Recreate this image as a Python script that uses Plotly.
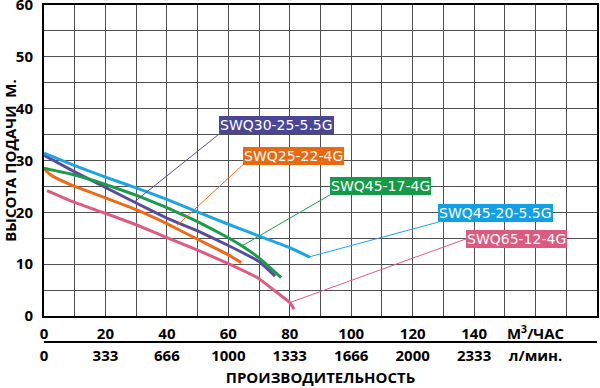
import plotly.graph_objects as go

# ---- data ----
series_names = ["SWQ30-25-5.5G", "SWQ25-22-4G", "SWQ45-17-4G", "SWQ45-20-5.5G", "SWQ65-12-4G"]

q_swq30 = [0, 10, 20, 30, 40, 50, 60, 70, 75.2]
h_swq30 = [31.0, 27.8, 24.8, 21.8, 18.9, 16.4, 13.6, 10.5, 7.7]

q_swq25 = [0, 2, 4, 10, 20, 30, 40, 50, 60, 64.2]
h_swq25 = [28.4, 27.3, 26.6, 25.0, 22.8, 20.5, 17.8, 14.8, 11.8, 10.3]

q_swq45_17 = [0, 10, 20, 30, 40, 50, 60, 65, 70, 74, 77.2]
h_swq45_17 = [28.5, 27.2, 25.4, 23.3, 20.9, 18.2, 15.1, 13.3, 11.2, 9.1, 7.4]

q_swq45_20 = [0, 10, 20, 30, 40, 50, 60, 70, 80, 86.3]
h_swq45_20 = [31.4, 29.0, 26.8, 24.7, 22.5, 20.1, 17.7, 15.4, 13.2, 11.4]

q_swq65 = [1, 10, 20, 30, 40, 50, 60, 70, 77, 80, 81.4]
h_swq65 = [24.2, 21.9, 19.8, 17.6, 15.1, 12.7, 10.1, 7.2, 4.0, 2.6, 1.3]

# label callouts: point on curve and label anchor (data units)
label_point_q = [29.6, 43.2, 64.4, 86.3, 80.1]
label_point_h = [22.1, 17.4, 13.5, 11.4, 2.6]
label_box_q = [57.0, 64.8, 93.2, 128.3, 137.5]
label_box_h = [35.1, 29.2, 23.4, 18.1, 14.9]

x_tick_values = [0, 20, 40, 60, 80, 100, 120, 140, 160]
x_tick_labels_m3h = ["0", "20", "40", "60", "80", "100", "120", "140", "M<sup>3</sup>/ЧАС"]
x_tick_labels_lpm = ["0", "333", "666", "1000", "1333", "1666", "2000", "2333", "л/мин."]
y_tick_values = [0, 10, 20, 30, 40, 50, 60]

line_colors = ["#5A4BA0", "#F06A14", "#1C9C48", "#1BA5E6", "#E05A80"]
box_colors = ["#4B4597", "#EA6810", "#159A4A", "#12A0E4", "#DC5A7D"]
box_yanchor = ["bottom", "bottom", "bottom", "bottom", "middle"]

curves = [(q_swq30, h_swq30), (q_swq25, h_swq25), (q_swq45_17, h_swq45_17),
          (q_swq45_20, h_swq45_20), (q_swq65, h_swq65)]

FONT = "Open Sans"

fig = go.Figure()
draw_order = [4, 1, 0, 2, 3]
for i in draw_order:
    q, h = curves[i]
    fig.add_trace(go.Scatter(x=q, y=h, mode="lines", name=series_names[i],
                             line=dict(color=line_colors[i], width=3, shape="spline", smoothing=0.3),
                             showlegend=False))

# dummy trace to attach the second (l/min) axis
fig.add_trace(go.Scatter(x=[], y=[], xaxis="x2", yaxis="y", showlegend=False, hoverinfo="skip"))

for i in range(5):
    fig.add_annotation(
        x=label_point_q[i], y=label_point_h[i], xref="x", yref="y",
        ax=label_box_q[i], ay=label_box_h[i], axref="x", ayref="y",
        text=series_names[i], showarrow=True,
        arrowhead=7 if i == 3 else 0, arrowsize=0.6, arrowwidth=1,
        arrowcolor=line_colors[i], standoff=0,
        xanchor="left", yanchor=box_yanchor[i],
        bgcolor=box_colors[i], borderpad=1, borderwidth=0,
        font=dict(family="DejaVu Sans", size=14, color="white"),
    )

minor_x = list(range(0, 181, 10))
minor_y = list(range(0, 61, 5))

fig.update_layout(
    width=600, height=388,
    margin=dict(l=44, r=3, t=5, b=5),
    paper_bgcolor="white", plot_bgcolor="white",
    font=dict(family=FONT, size=15, color="black"),
    xaxis=dict(
        range=[0, 180], tickvals=x_tick_values, ticktext=x_tick_labels_m3h,
        showgrid=False,
        minor=dict(tickvals=minor_x, showgrid=True, gridcolor="#505050", gridwidth=1, ticks=""),
        showline=True, linecolor="black", linewidth=2, mirror=True,
        ticks="", tickfont=dict(family=FONT, size=15, weight="bold"),
        ticklabelstandoff=3, zeroline=False, fixedrange=True, automargin=False,
        ticklabeloverflow="allow",
    ),
    xaxis2=dict(
        range=[0, 180], tickvals=x_tick_values, ticktext=x_tick_labels_lpm,
        overlaying="x", anchor="free", position=0.1085, side="bottom",
        showgrid=False, showline=True, linecolor="black", linewidth=2,
        ticks="", tickfont=dict(family=FONT, size=15, weight="bold"),
        ticklabelstandoff=0, zeroline=False, automargin=False,
        ticklabeloverflow="allow",
        title=dict(text="ПРОИЗВОДИТЕЛЬНОСТЬ", font=dict(family=FONT, size=15, weight="bold"), standoff=8),
    ),
    yaxis=dict(
        range=[0, 60], domain=[0.1773, 1], tickvals=y_tick_values,
        showgrid=False,
        minor=dict(tickvals=minor_y, showgrid=True, gridcolor="#505050", gridwidth=1, ticks=""),
        showline=True, linecolor="black", linewidth=2, mirror=True,
        ticks="", tickfont=dict(family=FONT, size=15, weight="bold"),
        ticklabelstandoff=6, zeroline=False, automargin=False,
        ticklabeloverflow="allow",
        title=dict(text="ВЫСОТА ПОДАЧИ  М.", font=dict(family=FONT, size=15, weight="bold"), standoff=3),
    ),
)

fig.write_html("out.html", config={"displayModeBar": False},
               post_script="document.body.style.margin='0';")
